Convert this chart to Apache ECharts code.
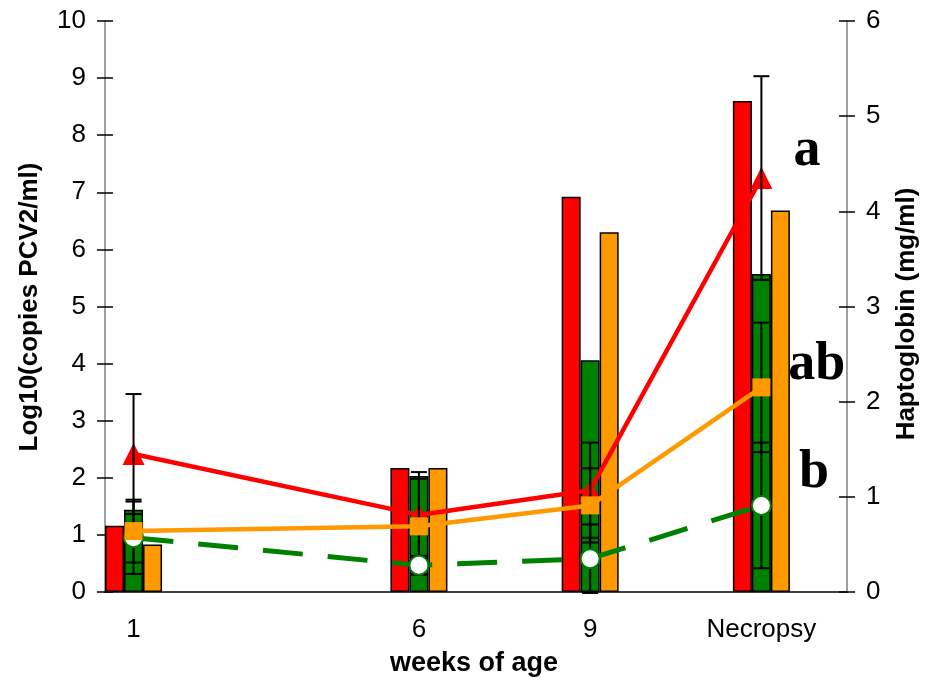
<!DOCTYPE html>
<html>
<head>
<meta charset="utf-8">
<script src="https://cdn.jsdelivr.net/npm/echarts@6/dist/echarts.min.js"></script>
<style>
html,body{margin:0;padding:0;background:#fff;}
#chart{width:926px;height:686px;}
</style>
</head>
<body>
<div id="chart"></div>
<script>
// ---- data ----
const weeks = [1, 6, 9, 12];
const tickLabels = ['1', '6', '9', 'Necropsy'];
// bars: Log10(copies PCV2/ml), left axis
const barRed = [1.16, 2.17, 6.92, 8.60];
const barGreen = [1.44, 2.03, 4.06, 5.57];
const barOrange = [0.83, 2.17, 6.30, 6.68];
// lines: Haptoglobin (mg/ml), right axis
const lineRed = [1.45, 0.81, 1.07, 4.35];
const lineOrange = [0.64, 0.69, 0.91, 2.15];
const lineGreen = [0.57, 0.28, 0.35, 0.91];
// error (+/-) of the haptoglobin lines
const errRed = [0.63, 0.45, 0.50, 1.07];
const errOrange = [0.33, 0.50, 0.39, 0.68];
const errGreen = [0.38, 0.10, 0.36, 0.66];
// significance letters (x in weeks, y on left axis)
const letterText = ['a', 'ab', 'b'];
const letterX = [12.8, 12.97, 12.92];
const letterY = [7.72, 3.97, 2.08];

const RED = '#FF0000', GREEN = '#008000', ORANGE = '#FF9900';
const FONT = '"Liberation Sans", Arial, sans-serif';

function pairs(xs, ys) { return xs.map((x, i) => [x, ys[i]]); }
function errData(xs, ys, es) { return xs.map((x, i) => [x, ys[i] - es[i], ys[i] + es[i]]); }

const chart = echarts.init(document.getElementById('chart'), null, {renderer: 'canvas'});

function barSeries(name, data, color) {
  return {
    name: name, type: 'bar', xAxisIndex: 0, yAxisIndex: 0,
    data: pairs(weeks, data), barWidth: 19, barGap: '0%',
    itemStyle: {color: color, borderColor: '#000', borderWidth: 1.5},
    z: 2, animation: false
  };
}

function errSeries(data) {
  return {
    type: 'custom', xAxisIndex: 0, yAxisIndex: 1, z: 4, animation: false,
    data: data,
    renderItem: function (params, api) {
      const lo = api.coord([api.value(0), api.value(1)]);
      const hi = api.coord([api.value(0), api.value(2)]);
      const cw = 8;
      const st = {stroke: '#000', lineWidth: 2};
      return {type: 'group', children: [
        {type: 'line', shape: {x1: lo[0], y1: lo[1], x2: hi[0], y2: hi[1]}, style: st},
        {type: 'line', shape: {x1: lo[0] - cw, y1: lo[1], x2: lo[0] + cw, y2: lo[1]}, style: st},
        {type: 'line', shape: {x1: hi[0] - cw, y1: hi[1], x2: hi[0] + cw, y2: hi[1]}, style: st}
      ]};
    }
  };
}

const yBase = {
  type: 'value', min: 0, interval: 1, splitLine: {show: false},
  axisLine: {show: true, lineStyle: {color: '#808080', width: 1.5}},
  axisTick: {show: true, length: 8, lineStyle: {color: '#000', width: 1.5}},
  axisLabel: {fontSize: 26, color: '#000', fontFamily: FONT, margin: 19}
};

const option = {
  backgroundColor: '#fff',
  animation: false,
  grid: {left: 105, right: 79, top: 21, bottom: 94, containLabel: false},
  xAxis: [{
    type: 'value', min: 0.5, max: 13.5,
    splitLine: {show: false},
    axisLine: {show: true, lineStyle: {color: '#000', width: 1.5}},
    axisTick: {show: false},
    axisLabel: {
      fontSize: 26, color: '#000', fontFamily: FONT, margin: 25,
      customValues: weeks,
      formatter: function (v) { const i = weeks.indexOf(v); return i >= 0 ? tickLabels[i] : ''; }
    }
  }],
  yAxis: [
    Object.assign({}, yBase, {position: 'left', max: 10}),
    Object.assign({}, yBase, {position: 'right', max: 6}),
    Object.assign({}, yBase, {position: 'left', max: 10, axisLine: {show: false},
      axisTick: {show: true, inside: true, length: 8, lineStyle: {color: '#000', width: 1.5}}, axisLabel: {show: false}}),
    Object.assign({}, yBase, {position: 'right', max: 6, axisLine: {show: false},
      axisTick: {show: true, inside: true, length: 8, lineStyle: {color: '#000', width: 1.5}}, axisLabel: {show: false}})
  ],
  graphic: [
    {type: 'text', x: 30, y: 307, rotation: Math.PI / 2,
      style: {text: 'Log10(copies PCV2/ml)', font: 'bold 26px ' + FONT, fill: '#000', align: 'center', verticalAlign: 'middle'}},
    {type: 'text', x: 907, y: 314, rotation: Math.PI / 2,
      style: {text: 'Haptoglobin (mg/ml)', font: 'bold 26px ' + FONT, fill: '#000', align: 'center', verticalAlign: 'middle'}},
    {type: 'text', x: 474, y: 664,
      style: {text: 'weeks of age', font: 'bold 27px ' + FONT, fill: '#000', align: 'center', verticalAlign: 'middle'}}
  ],
  series: [
    barSeries('red bars', barRed, RED),
    barSeries('green bars', barGreen, GREEN),
    barSeries('orange bars', barOrange, ORANGE),
    {
      name: 'red line', type: 'line', xAxisIndex: 0, yAxisIndex: 1, z: 3,
      data: pairs(weeks, lineRed), symbol: 'triangle', symbolSize: 22, showAllSymbol: true,
      lineStyle: {color: RED, width: 4.5}, itemStyle: {color: RED, borderWidth: 0}
    },
    errSeries(errData(weeks, lineRed, errRed)),
    errSeries(errData(weeks, lineOrange, errOrange)),
    errSeries(errData(weeks, lineGreen, errGreen)),
    {
      name: 'green line', type: 'line', xAxisIndex: 0, yAxisIndex: 1, z: 5,
      data: pairs(weeks, lineGreen), symbol: 'circle', symbolSize: 19, showAllSymbol: true,
      lineStyle: {color: GREEN, width: 5, type: [40, 25]},
      itemStyle: {color: '#fff', borderColor: GREEN, borderWidth: 2}
    },
    {
      name: 'orange line', type: 'line', xAxisIndex: 0, yAxisIndex: 1, z: 6,
      data: pairs(weeks, lineOrange), symbol: 'rect', symbolSize: [18, 18], showAllSymbol: true,
      lineStyle: {color: ORANGE, width: 4.5}, itemStyle: {color: ORANGE, borderWidth: 0}
    },
    {
      name: 'letters', type: 'scatter', xAxisIndex: 0, yAxisIndex: 0, z: 7,
      symbolSize: 0, silent: true,
      itemStyle: {opacity: 1},
      data: letterX.map((x, i) => [x, letterY[i], letterText[i]]),
      label: {
        show: true, position: 'inside', opacity: 1, formatter: function (p) { return p.value[2]; },
        fontFamily: '"Liberation Serif", "Times New Roman", serif', fontWeight: 'bold', fontSize: 54, color: '#000',
        textBorderWidth: 0
      }
    }
  ]
};
chart.setOption(option);
</script>
</body>
</html>
